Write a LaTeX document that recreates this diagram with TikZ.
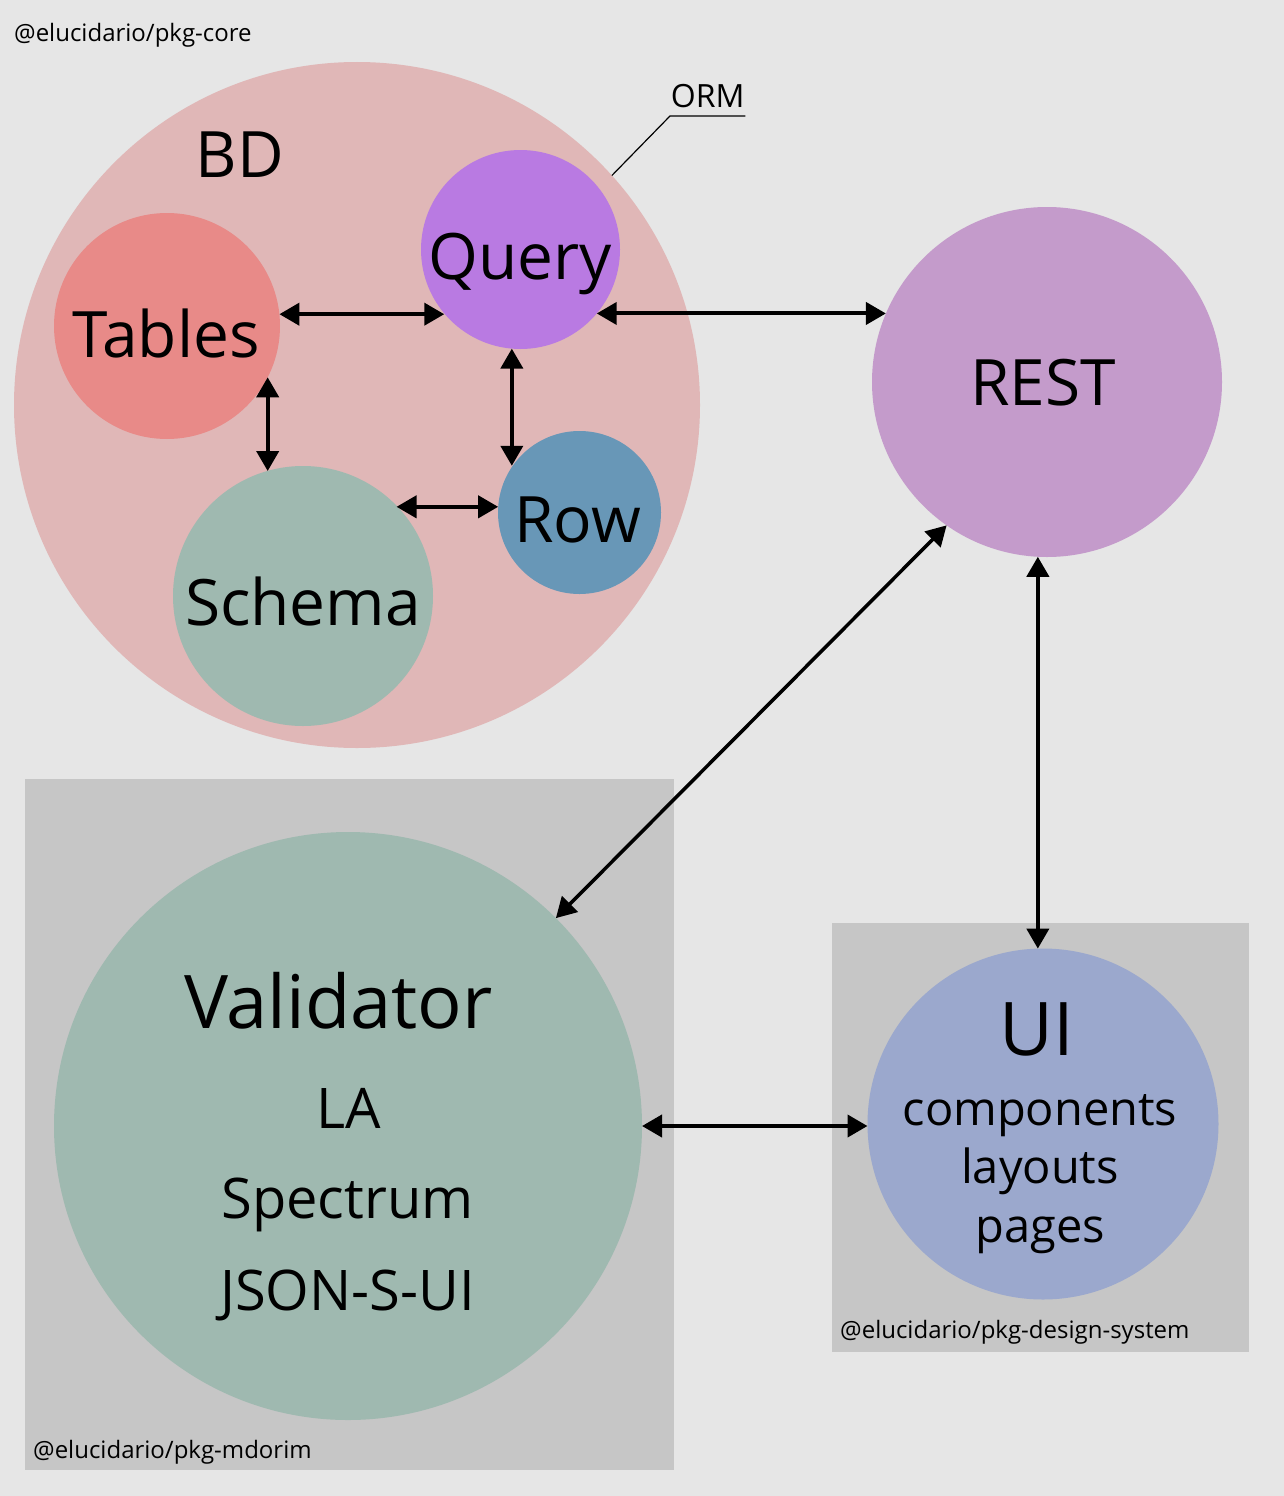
\documentclass[tikz,border=0pt]{standalone}
\usepackage{fontspec}
\setmainfont{Open Sans}
\usetikzlibrary{arrows.meta}
\definecolor{bgc}{HTML}{E6E6E6}
\definecolor{pinkc}{HTML}{E0B7B7}
\definecolor{queryc}{HTML}{B97AE2}
\definecolor{tablesc}{HTML}{E88A88}
\definecolor{greenc}{HTML}{9FB9B0}
\definecolor{rowc}{HTML}{6897B7}
\definecolor{restc}{HTML}{C49BCB}
\definecolor{boxc}{HTML}{C6C6C6}
\definecolor{uic}{HTML}{9BA8CD}
\tikzset{
  disc/.style={circle, draw=none, inner sep=0pt, outer sep=0pt},
  pkgbox/.style={rectangle, draw=none, inner sep=0pt, outer sep=0pt, anchor=north west},
  big/.style={font=\fontsize{64}{70}\selectfont, anchor=base, inner sep=0pt},
  huge/.style={font=\fontsize{74}{80}\selectfont, anchor=base, inner sep=0pt},
  mid/.style={font=\fontsize{56}{60}\selectfont, anchor=base, inner sep=0pt},
  sml/.style={font=\fontsize{47}{52}\selectfont, anchor=base, inner sep=0pt},
  tag/.style={font=\fontsize{24}{28}\selectfont, anchor=base west, inner sep=0pt},
  link/.style={line width=4pt, {Triangle[length=20pt,width=22pt]}-{Triangle[length=20pt,width=22pt]}},
  dlink/.style={line width=3.5pt, {Triangle[length=20pt,width=22pt]}-{Triangle[length=20pt,width=22pt]}}
}
\begin{document}
\begin{tikzpicture}[x=1pt,y=-1pt]
\useasboundingbox (0,0) rectangle (1284,1496);
\fill[bgc] (0,0) rectangle (1284,1496);

% package boxes
\node[pkgbox, fill=boxc, minimum width=649pt, minimum height=691pt] (mdbox) at (25,779) {};
\node[pkgbox, fill=boxc, minimum width=417pt, minimum height=429pt] (dsbox) at (832,923) {};

% circles
\node[disc, fill=pinkc, minimum size=686pt] (bd) at (357,405) {};
\node[disc, fill=queryc, minimum size=199pt] (query) at (520.5,249.5) {};
\node[disc, fill=tablesc, minimum size=226pt] (tables) at (167,326) {};
\node[disc, fill=greenc, minimum size=260pt] (schema) at (303,596) {};
\node[disc, fill=rowc, minimum size=163pt] (row) at (579.5,512.5) {};
\node[disc, fill=restc, minimum size=350pt] (rest) at (1047,382) {};
\node[disc, fill=greenc, minimum size=588pt] (validator) at (348,1126) {};
\node[disc, fill=uic, minimum size=351pt] (ui) at (1043,1124) {};

% texts
\node[tag] (coretag) at (14,42) {@elucidario/pkg-core};
\node[tag] (mdtag) at (33,1458) {@elucidario/pkg-mdorim};
\node[tag] (dstag) at (840,1338) {@elucidario/pkg-design-system};

\node[big] (bdT) at (240,177) {BD};
\node[big] (queryT) at (520.5,279) {Query};
\node[big] (tablesT) at (166,357) {Tables};
\node[big] (schemaT) at (303,625) {Schema};
\node[big] (rowT) at (577.5,542) {Row};
\node[big] (restT) at (1043,405) {REST};

\node[huge] (validatorT) at (338.5,1028) {Validator};
\node[mid] (laT) at (348.5,1128) {LA};
\node[mid] (spectrumT) at (347.5,1218) {Spectrum};
\node[mid] (jsonT) at (347.5,1310) {JSON-S-UI};

\node[huge] (uiT) at (1037,1055) {UI};
\node[sml] (compT) at (1040,1125) {components};
\node[sml] (layT) at (1040,1183) {layouts};
\node[sml] (pagesT) at (1040.5,1242) {pages};

% ORM callout
\node[font=\fontsize{32}{36}\selectfont, anchor=south west, inner xsep=0pt, inner ysep=8pt, minimum width=75pt] (orm) at (670,116) {ORM};
\draw[line width=1.2pt] (bd.42.2) -- (orm.south west) -- (orm.south east);

% connectors
\draw[link] (tables.6.5) -- (query.220 |- tables.6.5);
\draw[link] (query.-40) -- (rest.157.5 |- query.-40);
\draw[link] (tables.-27.2) -- (tables.-27.2 |- schema.106);
\draw[link] (query.-95) -- (query.-95 |- row.145);
\draw[link] (schema.44 |- row.176) -- (row.176);
\draw[dlink] (rest.235.4) -- (validator.45);
\draw[link] (rest.-93.6) -- (rest.-93.6 |- ui.92.3);
\draw[link] (validator.0) -- (ui.180.7 |- validator.0);
\end{tikzpicture}
\end{document}
